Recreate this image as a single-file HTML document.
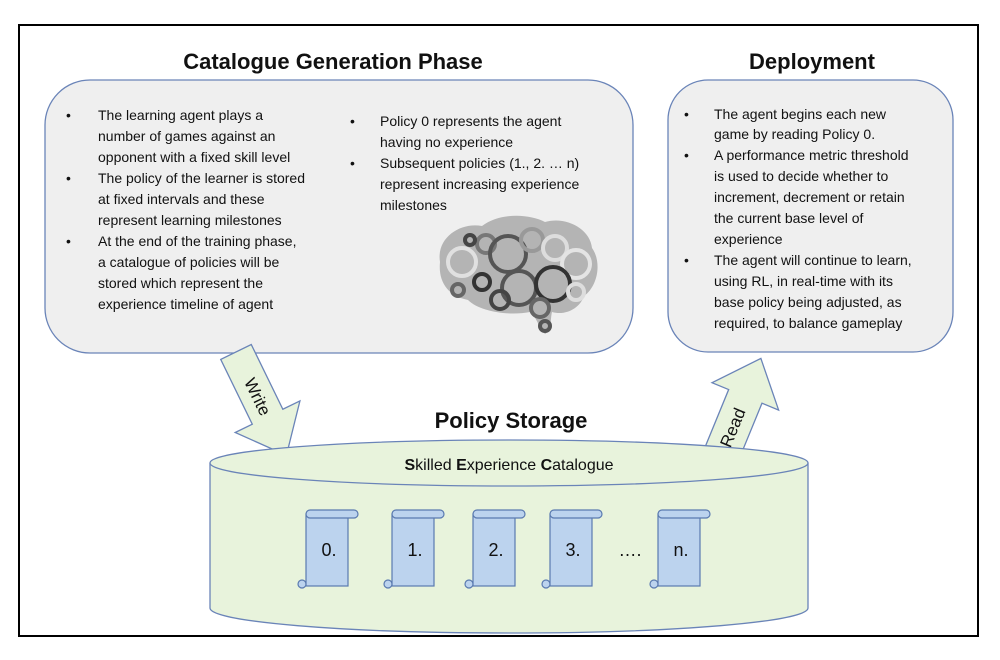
<!DOCTYPE html>
<html><head><meta charset="utf-8"><style>
html,body{margin:0;padding:0;background:#fff}
svg{display:block}
text{font-family:"Liberation Sans",sans-serif;fill:#111}
.t{font-size:14px}
.h{font-size:22px;font-weight:bold}
</style></head><body>
<svg width="1000" height="660" viewBox="0 0 1000 660">
<rect x="19" y="25" width="959" height="611" fill="#fff" stroke="#000" stroke-width="2"/>
<rect x="45" y="80" width="588" height="273" rx="45" fill="#efefef" stroke="#6a84b8" stroke-width="1.3"/>
<rect x="668" y="80" width="285" height="272" rx="40" fill="#efefef" stroke="#6a84b8" stroke-width="1.3"/>
<text class="h" x="333" y="69" text-anchor="middle">Catalogue Generation Phase</text>
<text class="h" x="812" y="69" text-anchor="middle">Deployment</text>
<g class="t">
<text x="66" y="120">•</text><text x="98" y="120">The learning agent plays a</text>
<text x="98" y="141">number  of games against an</text>
<text x="98" y="162">opponent  with  a fixed skill level</text>
<text x="66" y="183">•</text><text x="98" y="183">The policy of the learner is stored</text>
<text x="98" y="204">at fixed intervals and these</text>
<text x="98" y="225">represent learning milestones</text>
<text x="66" y="246">•</text><text x="98" y="246">At the end of the training phase,</text>
<text x="98" y="267">a catalogue of policies will be</text>
<text x="98" y="288">stored which represent the</text>
<text x="98" y="309">experience timeline of agent</text>
<text x="350" y="126">•</text><text x="380" y="126">Policy 0 represents the agent</text>
<text x="380" y="147">having no experience</text>
<text x="350" y="168">•</text><text x="380" y="168">Subsequent policies (1., 2. … n)</text>
<text x="380" y="189">represent increasing experience</text>
<text x="380" y="210">milestones</text>
<text x="684" y="119">•</text><text x="714" y="119">The agent begins each new</text>
<text x="714" y="139">game by reading Policy 0.</text>
<text x="684" y="160">•</text><text x="714" y="160">A performance  metric threshold</text>
<text x="714" y="181">is used to decide whether to</text>
<text x="714" y="202">increment, decrement or retain</text>
<text x="714" y="223">the current base level of</text>
<text x="714" y="244">experience</text>
<text x="684" y="265">•</text><text x="714" y="265">The agent will continue to learn,</text>
<text x="714" y="286">using RL, in real-time with its</text>
<text x="714" y="307">base policy being adjusted, as</text>
<text x="714" y="328">required, to balance gameplay</text>
</g>
<!-- brain -->
<path d="M440,262 C436,238 460,222 482,226 C500,212 530,214 545,222 C565,216 590,228 592,248 C602,262 598,286 584,296 C580,308 566,316 552,312 C550,320 552,330 545,334 C538,326 536,316 530,312 C510,316 480,312 468,300 C448,296 438,282 440,262 Z" fill="#b4b4b4"/>
<g fill="none" stroke-width="4">
<circle cx="462" cy="262" r="14" stroke="#e0e0e0"/><circle cx="486" cy="244" r="9" stroke="#777"/><circle cx="508" cy="254" r="18" stroke="#555"/>
<circle cx="532" cy="240" r="11" stroke="#999"/><circle cx="555" cy="248" r="12" stroke="#ddd"/><circle cx="576" cy="264" r="14" stroke="#e4e4e4"/>
<circle cx="482" cy="282" r="8" stroke="#333"/><circle cx="519" cy="288" r="17" stroke="#555"/><circle cx="553" cy="284" r="17" stroke="#333"/>
<circle cx="500" cy="300" r="9" stroke="#444"/><circle cx="540" cy="308" r="9" stroke="#666"/><circle cx="576" cy="292" r="8" stroke="#ddd"/>
<circle cx="545" cy="326" r="5" stroke="#555"/><circle cx="470" cy="240" r="5" stroke="#444"/><circle cx="458" cy="290" r="6" stroke="#666"/>
</g>
<!-- write arrow -->
<g transform="translate(236,352) rotate(64)">
<polygon points="0,-17 72,-17 72,-36 115,0 72,36 72,17 0,17" fill="#e8f3dc" stroke="#6a84b8" stroke-width="1.3"/>
<text x="30" y="6" font-size="17" text-anchor="start">Write</text>
</g>
<!-- read arrow -->
<g transform="translate(718,463) rotate(-67.7)">
<polygon points="0,-18 72,-18 72,-36 113,0 72,36 72,18 0,18" fill="#e8f3dc" stroke="#6a84b8" stroke-width="1.3"/>
<text x="18" y="6" font-size="17">Read</text>
</g>
<text class="h" x="511" y="428" text-anchor="middle">Policy Storage</text>
<!-- cylinder -->
<path d="M210,463 L210,608 A299,25 0 0 0 808,608 L808,463" fill="#e8f3dc" stroke="#6a84b8" stroke-width="1.3"/>
<ellipse cx="509" cy="463" rx="299" ry="23" fill="#e8f3dc" stroke="#6a84b8" stroke-width="1.3"/>
<text x="509" y="470" text-anchor="middle" font-size="16"><tspan font-weight="bold">S</tspan>killed <tspan font-weight="bold">E</tspan>xperience  <tspan font-weight="bold">C</tspan>atalogue</text>
<g fill="#bcd3ee" stroke="#5a7ab0" stroke-width="1.2">
<g transform="translate(298,0)"><rect x="8" y="514" width="42" height="72"/><rect x="8" y="510" width="52" height="8" rx="4"/><circle cx="4" cy="584" r="4"/></g>
<g transform="translate(384,0)"><rect x="8" y="514" width="42" height="72"/><rect x="8" y="510" width="52" height="8" rx="4"/><circle cx="4" cy="584" r="4"/></g>
<g transform="translate(465,0)"><rect x="8" y="514" width="42" height="72"/><rect x="8" y="510" width="52" height="8" rx="4"/><circle cx="4" cy="584" r="4"/></g>
<g transform="translate(542,0)"><rect x="8" y="514" width="42" height="72"/><rect x="8" y="510" width="52" height="8" rx="4"/><circle cx="4" cy="584" r="4"/></g>
<g transform="translate(650,0)"><rect x="8" y="514" width="42" height="72"/><rect x="8" y="510" width="52" height="8" rx="4"/><circle cx="4" cy="584" r="4"/></g>
</g>
<g font-size="18" text-anchor="middle">
<text x="329" y="556">0.</text><text x="415" y="556">1.</text><text x="496" y="556">2.</text><text x="573" y="556">3.</text><text x="630" y="556">….</text><text x="681" y="556">n.</text>
</g>
</svg>
</body></html>
